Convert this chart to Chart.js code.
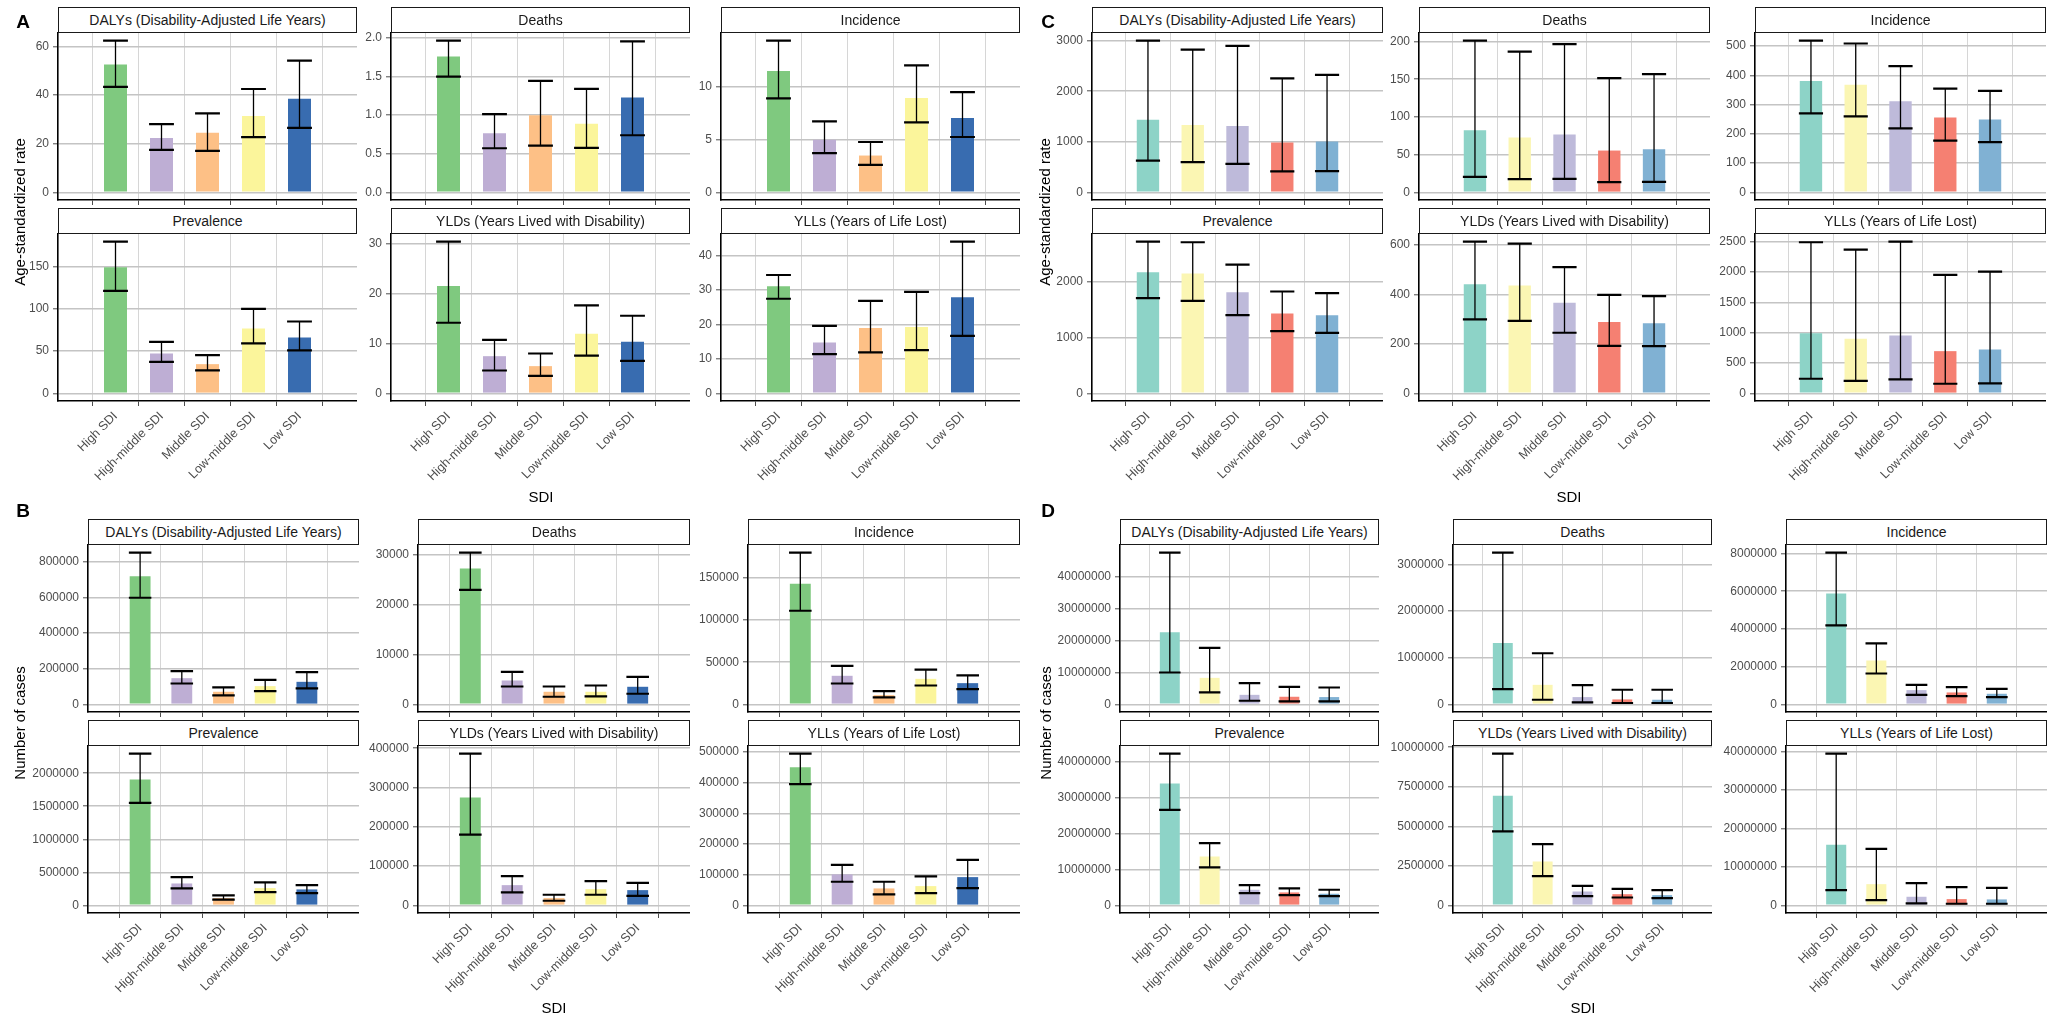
<!DOCTYPE html>
<html><head><meta charset="utf-8">
<script src="https://cdn.jsdelivr.net/npm/chart.js@4.4.1/dist/chart.umd.min.js"></script>
<style>
html,body{margin:0;padding:0;background:#fff}
body{width:2059px;height:1028px;position:relative;overflow:hidden;font-family:"Liberation Sans",Arial,Helvetica,sans-serif}
.strip{position:absolute;box-sizing:border-box;border:1.5px solid #1a1a1a;background:#fff;height:26px;font-size:14px;color:#1a1a1a;display:flex;align-items:center;justify-content:center;white-space:nowrap;z-index:2}
.cv{position:absolute;z-index:1}
.lab{position:absolute;transform:translate(-50%,-50%);white-space:nowrap;color:#000;z-index:3}
.ytitle{position:absolute;transform:translate(-50%,-50%) rotate(-90deg);white-space:nowrap;font-size:15px;color:#000;z-index:3}
.letter{position:absolute;transform:translate(-50%,-50%);font-size:19px;font-weight:bold;color:#000;z-index:3}
</style></head><body>
<script>
// ---------------- DATA ----------------
const categories = ["High SDI","High-middle SDI","Middle SDI","Low-middle SDI","Low SDI"];
const metricNames = ["DALYs (Disability-Adjusted Life Years)","Deaths","Incidence","Prevalence","YLDs (Years Lived with Disability)","YLLs (Years of Life Lost)"];

// Panel A : age-standardized rate (Accent palette groups)
const A_DALYs_val = [52.6,22.4,24.5,31.4,38.5];
const A_DALYs_low = [43.4,17.5,17.1,22.7,26.5];
const A_DALYs_up  = [62.4,28.1,32.5,42.5,54.2];
const A_DALYs_ticks = [0,20,40,60];
const A_Deaths_val = [1.76,0.766,1.00,0.89,1.23];
const A_Deaths_low = [1.50,0.572,0.606,0.576,0.74];
const A_Deaths_up  = [1.966,1.015,1.445,1.342,1.957];
const A_Deaths_ticks = [0,0.5,1,1.5,2];
const A_Incidence_val = [11.47,4.98,3.48,8.9,7.02];
const A_Incidence_low = [8.87,3.70,2.60,6.61,5.23];
const A_Incidence_up  = [14.33,6.71,4.76,12.0,9.47];
const A_Incidence_ticks = [0,5,10];
const A_Prevalence_val = [149.2,47.2,34.6,76.8,66.1];
const A_Prevalence_low = [121.3,37.4,27.2,59.1,50.8];
const A_Prevalence_up  = [179.5,61,45.3,100,85];
const A_Prevalence_ticks = [0,50,100,150];
const A_YLDs_val = [21.6,7.48,5.48,12.0,10.4];
const A_YLDs_low = [14.2,4.6,3.54,7.6,6.55];
const A_YLDs_up  = [30.5,10.75,8.02,17.7,15.6];
const A_YLDs_ticks = [0,10,20,30];
const A_YLLs_val = [31.1,14.8,19.0,19.3,27.9];
const A_YLLs_low = [27.5,11.4,11.9,12.6,16.7];
const A_YLLs_up  = [34.4,19.6,26.9,29.5,44.1];
const A_YLLs_ticks = [0,10,20,30,40];

// Panel B : number of cases
const B_DALYs_val = [719800,147300,70900,102600,126800];
const B_DALYs_low = [598600,117500,50300,74600,89500];
const B_DALYs_up  = [852200,186500,95100,138000,180900];
const B_DALYs_ticks = [0,200000,400000,600000,800000];
const B_Deaths_val = [27200,4790,2530,2530,3530];
const B_Deaths_low = [22950,3590,1530,1600,2130];
const B_Deaths_up  = [30400,6520,3590,3790,5520];
const B_Deaths_ticks = [0,10000,20000,30000];
const B_Incidence_val = [142900,33900,11000,30300,25200];
const B_Incidence_low = [111000,24800,8300,22400,18100];
const B_Incidence_up  = [179900,45700,15700,41300,34300];
const B_Incidence_ticks = [0,50000,100000,150000];
const B_Prevalence_val = [1904000,332000,111000,262000,242000];
const B_Prevalence_low = [1552000,257000,86000,201000,186000];
const B_Prevalence_up  = [2297000,428000,151000,348000,307000];
const B_Prevalence_ticks = [0,500000,1000000,1500000,2000000];
const B_YLDs_val = [274800,51600,18600,41400,38900];
const B_YLDs_low = [180100,33000,11800,27100,24500];
const B_YLDs_up  = [386500,74400,27100,61700,57500];
const B_YLDs_ticks = [0,100000,200000,300000,400000];
const B_YLLs_val = [450100,100900,55300,62900,92200];
const B_YLLs_low = [394800,77000,35800,40100,56400];
const B_YLLs_up  = [494600,132300,77000,94400,148600];
const B_YLLs_ticks = [0,100000,200000,300000,400000,500000];

// Panel C : age-standardized rate (Set3 palette groups)
const C_DALYs_val = [1438,1333,1313,985,1005];
const C_DALYs_low = [630,597,565,414,420];
const C_DALYs_up  = [3000,2823,2896,2252,2324];
const C_DALYs_ticks = [0,1000,2000,3000];
const C_Deaths_val = [82.4,72.7,76.7,55.5,57.3];
const C_Deaths_low = [20.7,17.6,18,13.7,14.1];
const C_Deaths_up  = [201.3,186.8,196.5,151.5,156.8];
const C_Deaths_ticks = [0,50,100,150,200];
const C_Incidence_val = [381,368,312,256,249];
const C_Incidence_low = [270,260,219,177,172];
const C_Incidence_up  = [519,509,432,355,347];
const C_Incidence_ticks = [0,100,200,300,400,500];
const C_Prevalence_val = [2173,2149,1815,1433,1403];
const C_Prevalence_low = [1707,1660,1403,1116,1087];
const C_Prevalence_up  = [2722,2710,2310,1827,1797];
const C_Prevalence_ticks = [0,1000,2000];
const C_YLDs_val = [441,436,366,288,283];
const C_YLDs_low = [299,293,245,192,191];
const C_YLDs_up  = [613,605,510,398,393];
const C_YLDs_ticks = [0,200,400,600];
const C_YLLs_val = [992,899,954,696,724];
const C_YLLs_low = [241,208,230,159,164];
const C_YLLs_up  = [2489,2368,2500,1952,2007];
const C_YLLs_ticks = [0,500,1000,1500,2000,2500];

// Panel D : number of cases
const D_DALYs_val = [22600000,8330000,3000000,2400000,2300000];
const D_DALYs_low = [10000000,3750000,1150000,940000,940000];
const D_DALYs_up  = [47600000,17700000,6670000,5500000,5300000];
const D_DALYs_ticks = [0,10000000,20000000,30000000,40000000];
const D_Deaths_val = [1319000,420000,157000,107000,100000];
const D_Deaths_low = [328000,100000,43000,30000,30000];
const D_Deaths_up  = [3257000,1098000,413000,314000,314000];
const D_Deaths_ticks = [0,1000000,2000000,3000000];
const D_Incidence_val = [5885000,2326000,758000,634000,564000];
const D_Incidence_low = [4194000,1639000,511000,440000,388000];
const D_Incidence_up  = [8053000,3242000,1040000,916000,828000];
const D_Incidence_ticks = [0,2000000,4000000,6000000,8000000];
const D_Prevalence_val = [34050000,13670000,4370000,3630000,3260000];
const D_Prevalence_low = [26700000,10600000,3440000,2880000,2600000];
const D_Prevalence_up  = [42400000,17400000,5670000,4740000,4370000];
const D_Prevalence_ticks = [0,10000000,20000000,30000000,40000000];
const D_YLDs_val = [6930000,2770000,880000,710000,650000];
const D_YLDs_low = [4680000,1850000,590000,500000,460000];
const D_YLDs_up  = [9600000,3870000,1240000,1050000,970000];
const D_YLDs_ticks = [0,2500000,5000000,7500000,10000000];
const D_YLLs_val = [15800000,5530000,2250000,1640000,1560000];
const D_YLLs_low = [3970000,1380000,520000,430000,430000];
const D_YLLs_up  = [39500000,14700000,5790000,4750000,4580000];
const D_YLLs_ticks = [0,10000000,20000000,30000000,40000000];

const accentColors = ["#7FC97F","#BEAED4","#FDC086","#FBF59B","#386CB0"];
const set3Colors   = ["#8DD3C7","#FBF6B3","#BEBADA","#F58072","#80B1D3"];

// ---------------- LAYOUT ----------------
Chart.defaults.font.family = '"Liberation Sans", Arial, Helvetica, sans-serif';
const FONT = '"Liberation Sans", Arial, Helvetica, sans-serif';

const panels = [
  {id:"A", colors:accentColors, ytitle:"Age-standardized rate", cols:[[58,357],[391,690],[721,1020]], rows:[[33,200],[234,401]],
   letter:[23,22], yt:[19,212], sdi:[541,496],
   sets:[[A_DALYs_val,A_DALYs_low,A_DALYs_up,A_DALYs_ticks],[A_Deaths_val,A_Deaths_low,A_Deaths_up,A_Deaths_ticks],[A_Incidence_val,A_Incidence_low,A_Incidence_up,A_Incidence_ticks],
         [A_Prevalence_val,A_Prevalence_low,A_Prevalence_up,A_Prevalence_ticks],[A_YLDs_val,A_YLDs_low,A_YLDs_up,A_YLDs_ticks],[A_YLLs_val,A_YLLs_low,A_YLLs_up,A_YLLs_ticks]]},
  {id:"B", colors:accentColors, ytitle:"Number of cases", cols:[[88,359],[418,690],[748,1020]], rows:[[545,712],[746,913]],
   letter:[23,511], yt:[19,723], sdi:[554,1007],
   sets:[[B_DALYs_val,B_DALYs_low,B_DALYs_up,B_DALYs_ticks],[B_Deaths_val,B_Deaths_low,B_Deaths_up,B_Deaths_ticks],[B_Incidence_val,B_Incidence_low,B_Incidence_up,B_Incidence_ticks],
         [B_Prevalence_val,B_Prevalence_low,B_Prevalence_up,B_Prevalence_ticks],[B_YLDs_val,B_YLDs_low,B_YLDs_up,B_YLDs_ticks],[B_YLLs_val,B_YLLs_low,B_YLLs_up,B_YLLs_ticks]]},
  {id:"C", colors:set3Colors, ytitle:"Age-standardized rate", cols:[[1092,1383],[1419,1710],[1755,2046]], rows:[[33,200],[234,401]],
   letter:[1048,22], yt:[1044,212], sdi:[1569,496],
   sets:[[C_DALYs_val,C_DALYs_low,C_DALYs_up,C_DALYs_ticks],[C_Deaths_val,C_Deaths_low,C_Deaths_up,C_Deaths_ticks],[C_Incidence_val,C_Incidence_low,C_Incidence_up,C_Incidence_ticks],
         [C_Prevalence_val,C_Prevalence_low,C_Prevalence_up,C_Prevalence_ticks],[C_YLDs_val,C_YLDs_low,C_YLDs_up,C_YLDs_ticks],[C_YLLs_val,C_YLLs_low,C_YLLs_up,C_YLLs_ticks]]},
  {id:"D", colors:set3Colors, ytitle:"Number of cases", cols:[[1120,1379],[1453,1712],[1786,2047]], rows:[[545,712],[746,913]],
   letter:[1048,511], yt:[1045,723], sdi:[1583,1007],
   sets:[[D_DALYs_val,D_DALYs_low,D_DALYs_up,D_DALYs_ticks],[D_Deaths_val,D_Deaths_low,D_Deaths_up,D_Deaths_ticks],[D_Incidence_val,D_Incidence_low,D_Incidence_up,D_Incidence_ticks],
         [D_Prevalence_val,D_Prevalence_low,D_Prevalence_up,D_Prevalence_ticks],[D_YLDs_val,D_YLDs_low,D_YLDs_up,D_YLDs_ticks],[D_YLLs_val,D_YLLs_low,D_YLLs_up,D_YLLs_ticks]]}
];

const errorBars = {
  id:"errorBars",
  afterDatasetsDraw(chart){
    const ctx = chart.ctx, xs = chart.scales.x, ys = chart.scales.y;
    const ds = chart.data.datasets[0];
    ctx.save();
    ctx.strokeStyle = "#000";
    ds.lo.forEach((lo,i)=>{
      const cx = xs.getPixelForValue(i);
      const half = xs.getPixelForValue(i+0.27) - cx;
      const yl = ys.getPixelForValue(lo), yh = ys.getPixelForValue(ds.hi[i]);
      ctx.lineWidth = 1.3;
      ctx.beginPath(); ctx.moveTo(cx,yl); ctx.lineTo(cx,yh); ctx.stroke();
      ctx.lineWidth = 2.2;
      ctx.beginPath();
      ctx.moveTo(cx-half,yl); ctx.lineTo(cx+half,yl);
      ctx.moveTo(cx-half,yh); ctx.lineTo(cx+half,yh);
      ctx.stroke();
    });
    ctx.restore();
  }
};

function fmt(ticks){
  const dec = ticks.some(v=>!Number.isInteger(v)) ? 1 : 0;
  return v => dec ? v.toFixed(1) : String(Math.round(v));
}

function addDiv(cls, text, styles){
  const d = document.createElement("div");
  d.className = cls; d.textContent = text;
  Object.assign(d.style, styles);
  document.body.appendChild(d);
  return d;
}

const AXW = 72;   // room left of the plot for y tick labels
const PT = 12;    // room above the plot for the top tick label
panels.forEach(p=>{
  addDiv("letter", p.id, {left:p.letter[0]+"px", top:p.letter[1]+"px"});
  addDiv("ytitle", p.ytitle, {left:p.yt[0]+"px", top:p.yt[1]+"px"});
  addDiv("lab", "SDI", {left:p.sdi[0]+"px", top:p.sdi[1]+"px", fontSize:"15px"});
  p.sets.forEach((set,k)=>{
    const r = Math.floor(k/3), c = k%3;
    const [x0,x1] = p.cols[c];
    const [y0,y1] = p.rows[r];
    const bottomRow = r === 1;
    const [val, lo, hi, ticks] = set;
    addDiv("strip", metricNames[k], {left:x0+"px", top:(y0-26)+"px", width:(x1-x0)+"px"});
    const XAH = bottomRow ? 120 : 8;
    const cv = document.createElement("canvas");
    cv.className = "cv";
    const w = Math.round(x1-x0+AXW), h = Math.round(y1-y0+XAH+PT);
    cv.width = w; cv.height = h;
    cv.style.left = (x0-AXW)+"px"; cv.style.top = (y0-PT)+"px";
    cv.style.width = w+"px"; cv.style.height = h+"px";
    document.body.appendChild(cv);
    const M = Math.max(...hi);
    const f = fmt(ticks);
    new Chart(cv.getContext("2d"), {
      type:"bar",
      data:{datasets:[{
        data: val.map((v,i)=>({x:i,y:v})),
        backgroundColor: p.colors, borderWidth:0,
        barPercentage:0.5, categoryPercentage:1,
        lo: lo, hi: hi
      }]},
      options:{
        responsive:false, animation:false, devicePixelRatio:1,
        layout:{padding:{top:PT,left:0,right:0,bottom:0}, autoPadding:false},
        plugins:{legend:{display:false}, tooltip:{enabled:false}, title:{display:false}},
        scales:{
          x:{type:"linear", min:-0.6, max:4.6, bounds:"data",
             afterBuildTicks: s=>{ s.ticks = categories.map((c,i)=>({value:i})); },
             afterFit: s=>{ s.height = XAH; s.paddingLeft = 0; s.paddingRight = 0; s.paddingTop = 0; s.paddingBottom = 0; },
             grid:{color:"#d6d6d6", lineWidth:1, drawTicks:true, tickLength:5, tickColor:"#4d4d4d", tickWidth:1},
             border:{display:true, color:"#000", width:1.6},
             ticks:{display:bottomRow, autoSkip:false, minRotation:45, maxRotation:45, padding:3,
                    color:"#4d4d4d", font:{size:12.5, family:FONT},
                    callback: v => categories[v]}
          },
          y:{type:"linear", min:-0.05*M, max:1.05*M, bounds:"data",
             afterBuildTicks: s=>{ s.ticks = ticks.map(v=>({value:v})); },
             afterFit: s=>{ s.width = AXW; s.paddingTop = 0; s.paddingBottom = 0; s.paddingLeft = 0; s.paddingRight = 0; },
             grid:{color:"#c4c4c4", lineWidth:1.6, drawTicks:true, tickLength:5, tickColor:"#4d4d4d", tickWidth:1},
             border:{display:true, color:"#000", width:1.6},
             ticks:{autoSkip:false, padding:4, color:"#4d4d4d", font:{size:12, family:FONT}, callback: v => f(v)}
          }
        }
      },
      plugins:[errorBars]
    });
  });
});
</script>
</body></html>
